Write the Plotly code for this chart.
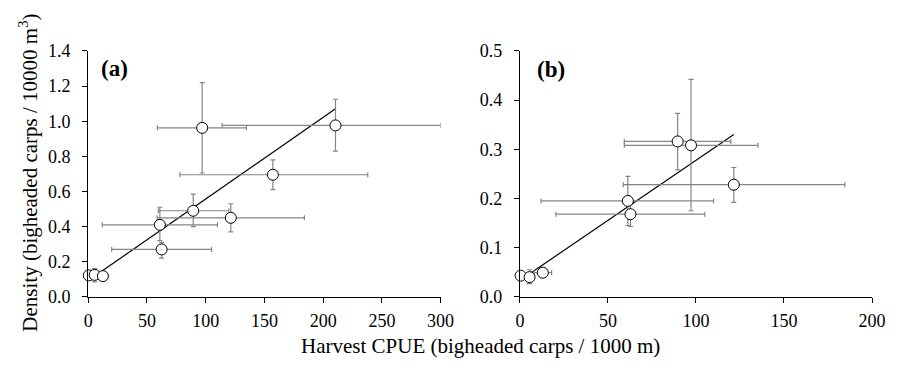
import plotly.graph_objects as go

# Panel (a): harvest CPUE vs bigheaded carp density (all sites)
a_cpue = [0.5, 5.5, 12.5, 61, 62.5, 89.4, 121.4, 157.2, 97, 210.5]
a_cpue_lo = [0.5, 5.5, 12.5, 12, 20, 59.7, 58.6, 78, 58.9, 114]
a_cpue_hi = [0.5, 5.5, 12.5, 110, 105, 119.7, 184, 238, 134.7, 300]
a_dens = [0.122, 0.125, 0.118, 0.41, 0.27, 0.49, 0.45, 0.695, 0.962, 0.976]
a_dens_lo = [0.122, 0.085, 0.118, 0.32, 0.22, 0.40, 0.37, 0.61, 0.705, 0.83]
a_dens_hi = [0.122, 0.16, 0.118, 0.51, 0.31, 0.585, 0.53, 0.78, 1.22, 1.125]
a_fit_x = [1, 210.5]
a_fit_intercept = 0.092
a_fit_slope = 0.00465

# Panel (b)
b_cpue = [0.4, 5.5, 13, 61.3, 62.8, 89.6, 97.2, 121.5]
b_cpue_lo = [0.4, 3, 8, 12, 20.4, 59.3, 59.3, 58.7]
b_cpue_hi = [0.4, 8, 18, 110, 105, 119.8, 135.2, 184.6]
b_dens = [0.043, 0.040, 0.049, 0.195, 0.168, 0.316, 0.308, 0.228]
b_dens_lo = [0.043, 0.027, 0.049, 0.145, 0.143, 0.258, 0.175, 0.192]
b_dens_hi = [0.043, 0.055, 0.049, 0.245, 0.19, 0.373, 0.442, 0.263]
b_fit_x = [1, 121.5]
b_fit_intercept = 0.0334
b_fit_slope = 0.00244

a_xticks = [0, 50, 100, 150, 200, 250, 300]
a_yticks = [0.0, 0.2, 0.4, 0.6, 0.8, 1.0, 1.2, 1.4]
b_xticks = [0, 50, 100, 150, 200]
b_yticks = [0.0, 0.1, 0.2, 0.3, 0.4, 0.5]

FONT = "Liberation Serif"
ERR_COLOR = "#858585"
W, H = 901, 368


def points(x, xlo, xhi, y, ylo, yhi, xa, ya):
    return go.Scatter(
        x=x, y=y, mode="markers", xaxis=xa, yaxis=ya, showlegend=False,
        cliponaxis=False,
        marker=dict(size=11, color="white", line=dict(color="black", width=1)),
        error_x=dict(type="data", symmetric=False,
                     array=[h - v for h, v in zip(xhi, x)],
                     arrayminus=[v - l for l, v in zip(xlo, x)],
                     color=ERR_COLOR, thickness=1.2, width=2.5),
        error_y=dict(type="data", symmetric=False,
                     array=[h - v for h, v in zip(yhi, y)],
                     arrayminus=[v - l for l, v in zip(ylo, y)],
                     color=ERR_COLOR, thickness=1.2, width=2.5),
    )


def fit_line(xs, b0, b1, xa, ya):
    return go.Scatter(
        x=xs, y=[b0 + b1 * v for v in xs], mode="lines", xaxis=xa, yaxis=ya,
        showlegend=False, line=dict(color="black", width=1.2),
    )


fig = go.Figure()
fig.add_trace(fit_line(a_fit_x, a_fit_intercept, a_fit_slope, "x", "y"))
fig.add_trace(points(a_cpue, a_cpue_lo, a_cpue_hi, a_dens, a_dens_lo, a_dens_hi, "x", "y"))
fig.add_trace(fit_line(b_fit_x, b_fit_intercept, b_fit_slope, "x2", "y2"))
fig.add_trace(points(b_cpue, b_cpue_lo, b_cpue_hi, b_dens, b_dens_lo, b_dens_hi, "x2", "y2"))

tickfont = dict(family=FONT, size=18, color="black")
axis_common = dict(showgrid=False, zeroline=False, showline=True, linecolor="black",
                   linewidth=1, ticks="outside", ticklen=5, tickwidth=1,
                   tickcolor="black", tickfont=tickfont, mirror=False)

ydom = [1 - 303.3 / H, 1 - 43.3 / H]
fig.update_layout(
    width=W, height=H,
    margin=dict(l=0, r=0, t=0, b=0),
    paper_bgcolor="white", plot_bgcolor="white",
    xaxis=dict(domain=[85 / W, 445 / W], range=[0, 300], tickvals=a_xticks,
               anchor="y", ticklabelstandoff=3, **axis_common),
    yaxis=dict(domain=ydom, range=[0, 1.4], tickvals=a_yticks, tickformat=".1f",
               anchor="x", ticklabelstandoff=8, **axis_common),
    xaxis2=dict(domain=[526 / W, 885.7 / W], range=[0, 200], tickvals=b_xticks,
                anchor="y2", ticklabelstandoff=3, **axis_common),
    yaxis2=dict(domain=ydom, range=[0, 0.5], tickvals=b_yticks, tickformat=".1f",
                anchor="x2", ticklabelstandoff=8, **axis_common),
)

fig.add_annotation(text="<b>(a)</b>", xref="paper", yref="paper",
                   x=112 / W, y=1 - 62 / H, xanchor="center", yanchor="middle",
                   showarrow=False, font=dict(family=FONT, size=23, color="black"))
fig.add_annotation(text="<b>(b)</b>", xref="paper", yref="paper",
                   x=557.5 / W, y=1 - 63 / H, xanchor="center", yanchor="middle",
                   showarrow=False, font=dict(family=FONT, size=23, color="black"))
fig.add_annotation(text="Harvest CPUE (bigheaded carps / 1000 m)", xref="paper",
                   yref="paper", x=485.5 / W, y=1 - 355 / H, xanchor="center",
                   yanchor="middle", showarrow=False,
                   font=dict(family=FONT, size=21, color="black"))
fig.add_annotation(text="Density (bigheaded carps / 10000 m<sup>3</sup>)",
                   xref="paper", yref="paper", x=24 / W, y=1 - 171.5 / H,
                   xanchor="center", yanchor="middle", textangle=-90,
                   showarrow=False, font=dict(family=FONT, size=21, color="black"))

fig.write_html("out.html")
